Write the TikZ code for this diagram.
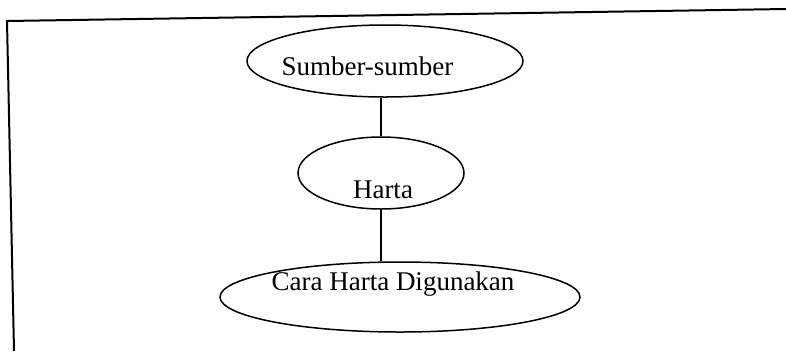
\documentclass[tikz,border=0pt]{standalone}
\usepackage{fontspec}
\setmainfont{Liberation Serif}
\usetikzlibrary{shapes.geometric}
\begin{document}
\begin{tikzpicture}[x=1bp,y=-1bp,
  oval/.style={draw, ellipse, line width=1.5bp, inner sep=0pt},
  lbl/.style={anchor=base, inner sep=0pt, font=\fontsize{27bp}{31bp}\selectfont},
  link/.style={line width=1.4bp}]
\useasboundingbox (0,0) rectangle (786,351);
\coordinate (fbl) at (14,351);
\coordinate (ftl) at (7,21);
\coordinate (ftr) at (786,9);
\draw[line width=2bp] (fbl) -- (ftl) -- (ftr);
\node[oval, minimum width=276bp, minimum height=72bp] (s) at (385,61) {};
\node[oval, minimum width=166bp, minimum height=72bp] (h) at (381,173) {};
\node[oval, minimum width=360bp, minimum height=70bp] (c) at (400,297) {};
\node[lbl] (st) at (367.5,75) {Sumber-sumber};
\node[lbl] (ht) at (383,198) {Harta};
\node[lbl] (ct) at (393,290) {Cara Harta Digunakan};
\draw[link] (h.north |- s.south) -- (h.north);
\draw[link] (h.south) -- (h.south |- c.north);
\end{tikzpicture}
\end{document}
